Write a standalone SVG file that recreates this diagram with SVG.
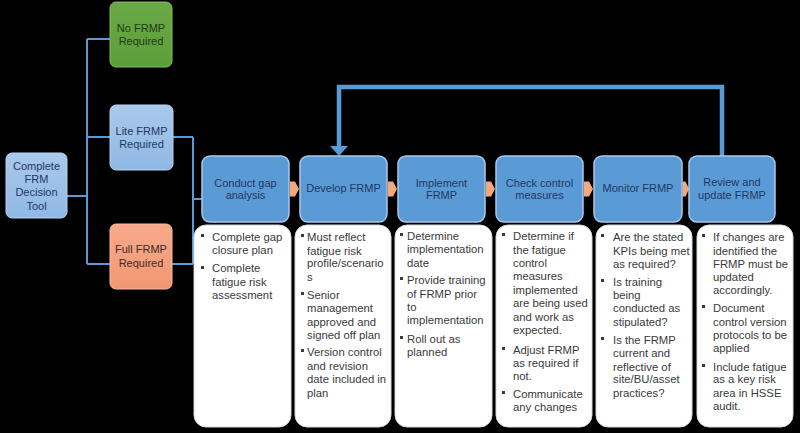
<svg xmlns="http://www.w3.org/2000/svg" width="800" height="433" viewBox="0 0 800 433">
<defs>
<linearGradient id="gGreen" x1="0" y1="0" x2="0" y2="1"><stop offset="0" stop-color="#6aaa45"/><stop offset="1" stop-color="#5c9e3a"/></linearGradient>
<linearGradient id="gLite" x1="0" y1="0" x2="0" y2="1"><stop offset="0" stop-color="#a9c9eb"/><stop offset="1" stop-color="#8fb8e3"/></linearGradient>
<linearGradient id="gFull" x1="0" y1="0" x2="0" y2="1"><stop offset="0" stop-color="#f7a98a"/><stop offset="1" stop-color="#f29774"/></linearGradient>
<style>
.bg{fill:#000}
.line{fill:none;stroke:#5b9bd5;stroke-width:2}
.loop{fill:none;stroke:#5b9bd5;stroke-width:4.5}
.proc{fill:#5b9bd5;stroke:#a8c8ea;stroke-width:1.5}
.wbox{fill:#fff;stroke:#d9d9d9;stroke-width:1}
.arr{fill:#f4a97c}
.pt{font-family:"Liberation Sans",Arial,sans-serif;font-size:11px;fill:#1f3864;text-anchor:middle}
.lt{font-family:"Liberation Sans",Arial,sans-serif;font-size:11px;text-anchor:middle}
.bt{font-family:"Liberation Sans",Arial,sans-serif;font-size:11.3px;fill:#3a3a3a}
.bul{fill:#3a3a3a}
</style>
</defs>
<rect class="bg" x="0" y="0" width="800" height="433"/>

<g id="connectors">
<path class="line" d="M67,196 H87 M87,39 V264 M87,39 H110 M87,137 H110 M87,264 H110"/>
<path class="line" d="M173,137 H193 M172,264 H193 M193,137 V264 M193,199 H202"/>
<path class="loop" d="M722,156 V87 H339 V146"/>
<polygon fill="#5b9bd5" points="330,146 348,146 339,156"/>
<polygon class="arr" points="290,181.5 295,181.5 299,189 295,196.5 290,196.5"/>
<polygon class="arr" points="388,181.5 393,181.5 397,189 393,196.5 388,196.5"/>
<polygon class="arr" points="486,181.5 491,181.5 495,189 491,196.5 486,196.5"/>
<polygon class="arr" points="584,181.5 589,181.5 593,189 589,196.5 584,196.5"/>
<polygon class="arr" points="682.5,181.5 685.5,181.5 689,189 685.5,196.5 682.5,196.5"/>
</g>

<g id="node-decision">
<rect x="6" y="153" width="61" height="65" rx="6" fill="url(#gLite)" stroke="#b5d1ee" stroke-width="1"/>
<text class="lt" fill="#1f3864"><tspan x="36.5" y="170">Complete</tspan><tspan x="36.5" y="183">FRM</tspan><tspan x="36.5" y="196">Decision</tspan><tspan x="36.5" y="209.5">Tool</tspan></text>
</g>
<g id="node-no">
<rect x="110" y="2" width="62" height="65" rx="6" fill="url(#gGreen)" stroke="#84bb62" stroke-width="1"/>
<text class="lt" fill="#1e3a14"><tspan x="141" y="32">No FRMP</tspan><tspan x="141" y="45">Required</tspan></text>
</g>
<g id="node-lite">
<rect x="110" y="105" width="63" height="65" rx="6" fill="url(#gLite)" stroke="#b5d1ee" stroke-width="1"/>
<text class="lt" fill="#1f3864"><tspan x="141.5" y="135">Lite FRMP</tspan><tspan x="141.5" y="148">Required</tspan></text>
</g>
<g id="node-full">
<rect x="110" y="224" width="62" height="65" rx="6" fill="url(#gFull)" stroke="#f8bba2" stroke-width="1"/>
<text class="lt" fill="#3b2a2a"><tspan x="141" y="253">Full FRMP</tspan><tspan x="141" y="267">Required</tspan></text>
</g>

<g id="node-gap">
<rect class="proc" x="202" y="156" width="87" height="66" rx="8"/>
<text class="pt"><tspan x="245.5" y="187">Conduct gap</tspan><tspan x="245.5" y="199">analysis</tspan></text>
<rect class="wbox" x="194" y="225" width="97" height="202" rx="12"/>
<rect class="bul" x="201" y="234" width="3" height="3"/>
<rect class="bul" x="201" y="266" width="3" height="3"/>
<text class="bt"><tspan x="212" y="241">Complete gap</tspan><tspan x="212" y="254">closure plan</tspan><tspan x="212" y="272">Complete</tspan><tspan x="212" y="286">fatigue risk</tspan><tspan x="212" y="299">assessment</tspan></text>
</g>

<g id="node-develop">
<rect class="proc" x="300" y="156" width="87" height="66" rx="8"/>
<text class="pt"><tspan x="343.5" y="192">Develop FRMP</tspan></text>
<rect class="wbox" x="295" y="225" width="96" height="202" rx="12"/>
<rect class="bul" x="301" y="234" width="3" height="3"/>
<rect class="bul" x="301" y="292" width="3" height="3"/>
<rect class="bul" x="301" y="349" width="3" height="3"/>
<text class="bt"><tspan x="307" y="241">Must reflect</tspan><tspan x="307" y="254.5">fatigue risk</tspan><tspan x="307" y="267">profile/scenario</tspan><tspan x="307" y="281">s</tspan><tspan x="307" y="299">Senior</tspan><tspan x="307" y="312">management</tspan><tspan x="307" y="326">approved and</tspan><tspan x="307" y="339">signed off plan</tspan><tspan x="307" y="356">Version control</tspan><tspan x="307" y="370">and revision</tspan><tspan x="307" y="383">date included in</tspan><tspan x="307" y="397">plan</tspan></text>
</g>

<g id="node-implement">
<rect class="proc" x="398" y="156" width="87" height="66" rx="8"/>
<text class="pt"><tspan x="441.5" y="187">Implement</tspan><tspan x="441.5" y="199">FRMP</tspan></text>
<rect class="wbox" x="395" y="225" width="97" height="202" rx="12"/>
<rect class="bul" x="400" y="233" width="3" height="3"/>
<rect class="bul" x="400" y="277" width="3" height="3"/>
<rect class="bul" x="400" y="336" width="3" height="3"/>
<text class="bt"><tspan x="407" y="240">Determine</tspan><tspan x="407" y="253">implementation</tspan><tspan x="407" y="267">date</tspan><tspan x="407" y="284">Provide training</tspan><tspan x="407" y="298">of FRMP prior</tspan><tspan x="407" y="311">to</tspan><tspan x="407" y="324">implementation</tspan><tspan x="407" y="343">Roll out as</tspan><tspan x="407" y="356">planned</tspan></text>
</g>

<g id="node-check">
<rect class="proc" x="496" y="156" width="87" height="66" rx="8"/>
<text class="pt"><tspan x="539.5" y="187">Check control</tspan><tspan x="539.5" y="199">measures</tspan></text>
<rect class="wbox" x="496" y="225" width="96" height="202" rx="12"/>
<rect class="bul" x="502" y="233" width="3" height="3"/>
<rect class="bul" x="502" y="347" width="3" height="3"/>
<rect class="bul" x="502" y="391" width="3" height="3"/>
<text class="bt"><tspan x="513" y="240">Determine if</tspan><tspan x="513" y="254">the fatigue</tspan><tspan x="513" y="267">control</tspan><tspan x="513" y="280">measures</tspan><tspan x="513" y="294">implemented</tspan><tspan x="513" y="307">are being used</tspan><tspan x="513" y="321">and work as</tspan><tspan x="513" y="334">expected.</tspan><tspan x="513" y="354">Adjust FRMP</tspan><tspan x="513" y="367">as required if</tspan><tspan x="513" y="380">not.</tspan><tspan x="513" y="398">Communicate</tspan><tspan x="513" y="411">any changes</tspan></text>
</g>

<g id="node-monitor">
<rect class="proc" x="594" y="156" width="88" height="66" rx="8"/>
<text class="pt"><tspan x="638" y="192">Monitor FRMP</tspan></text>
<rect class="wbox" x="596" y="225" width="96" height="202" rx="12"/>
<rect class="bul" x="601" y="234" width="3" height="3"/>
<rect class="bul" x="601" y="279" width="3" height="3"/>
<rect class="bul" x="601" y="337" width="3" height="3"/>
<text class="bt"><tspan x="613" y="241">Are the stated</tspan><tspan x="613" y="255">KPIs being met</tspan><tspan x="613" y="268">as required?</tspan><tspan x="613" y="286">Is training</tspan><tspan x="613" y="299">being</tspan><tspan x="613" y="312">conducted as</tspan><tspan x="613" y="326">stipulated?</tspan><tspan x="613" y="344">Is the FRMP</tspan><tspan x="613" y="357">current and</tspan><tspan x="613" y="371">reflective of</tspan><tspan x="613" y="383">site/BU/asset</tspan><tspan x="613" y="397">practices?</tspan></text>
</g>

<g id="node-review">
<rect class="proc" x="689" y="156" width="86" height="66" rx="8"/>
<text class="pt"><tspan x="732" y="186">Review and</tspan><tspan x="732" y="199">update FRMP</tspan></text>
<rect class="wbox" x="697" y="225" width="96" height="202" rx="12"/>
<rect class="bul" x="702" y="234" width="3" height="3"/>
<rect class="bul" x="702" y="305" width="3" height="3"/>
<rect class="bul" x="702" y="364" width="3" height="3"/>
<text class="bt"><tspan x="713" y="241">If changes are</tspan><tspan x="713" y="255">identified the</tspan><tspan x="713" y="268">FRMP must be</tspan><tspan x="713" y="281">updated</tspan><tspan x="713" y="294">accordingly.</tspan><tspan x="713" y="312">Document</tspan><tspan x="713" y="326">control version</tspan><tspan x="713" y="339">protocols to be</tspan><tspan x="713" y="352">applied</tspan><tspan x="713" y="371">Include fatigue</tspan><tspan x="713" y="383">as a key risk</tspan><tspan x="713" y="397">area in HSSE</tspan><tspan x="713" y="410">audit.</tspan></text>
</g>
</svg>
